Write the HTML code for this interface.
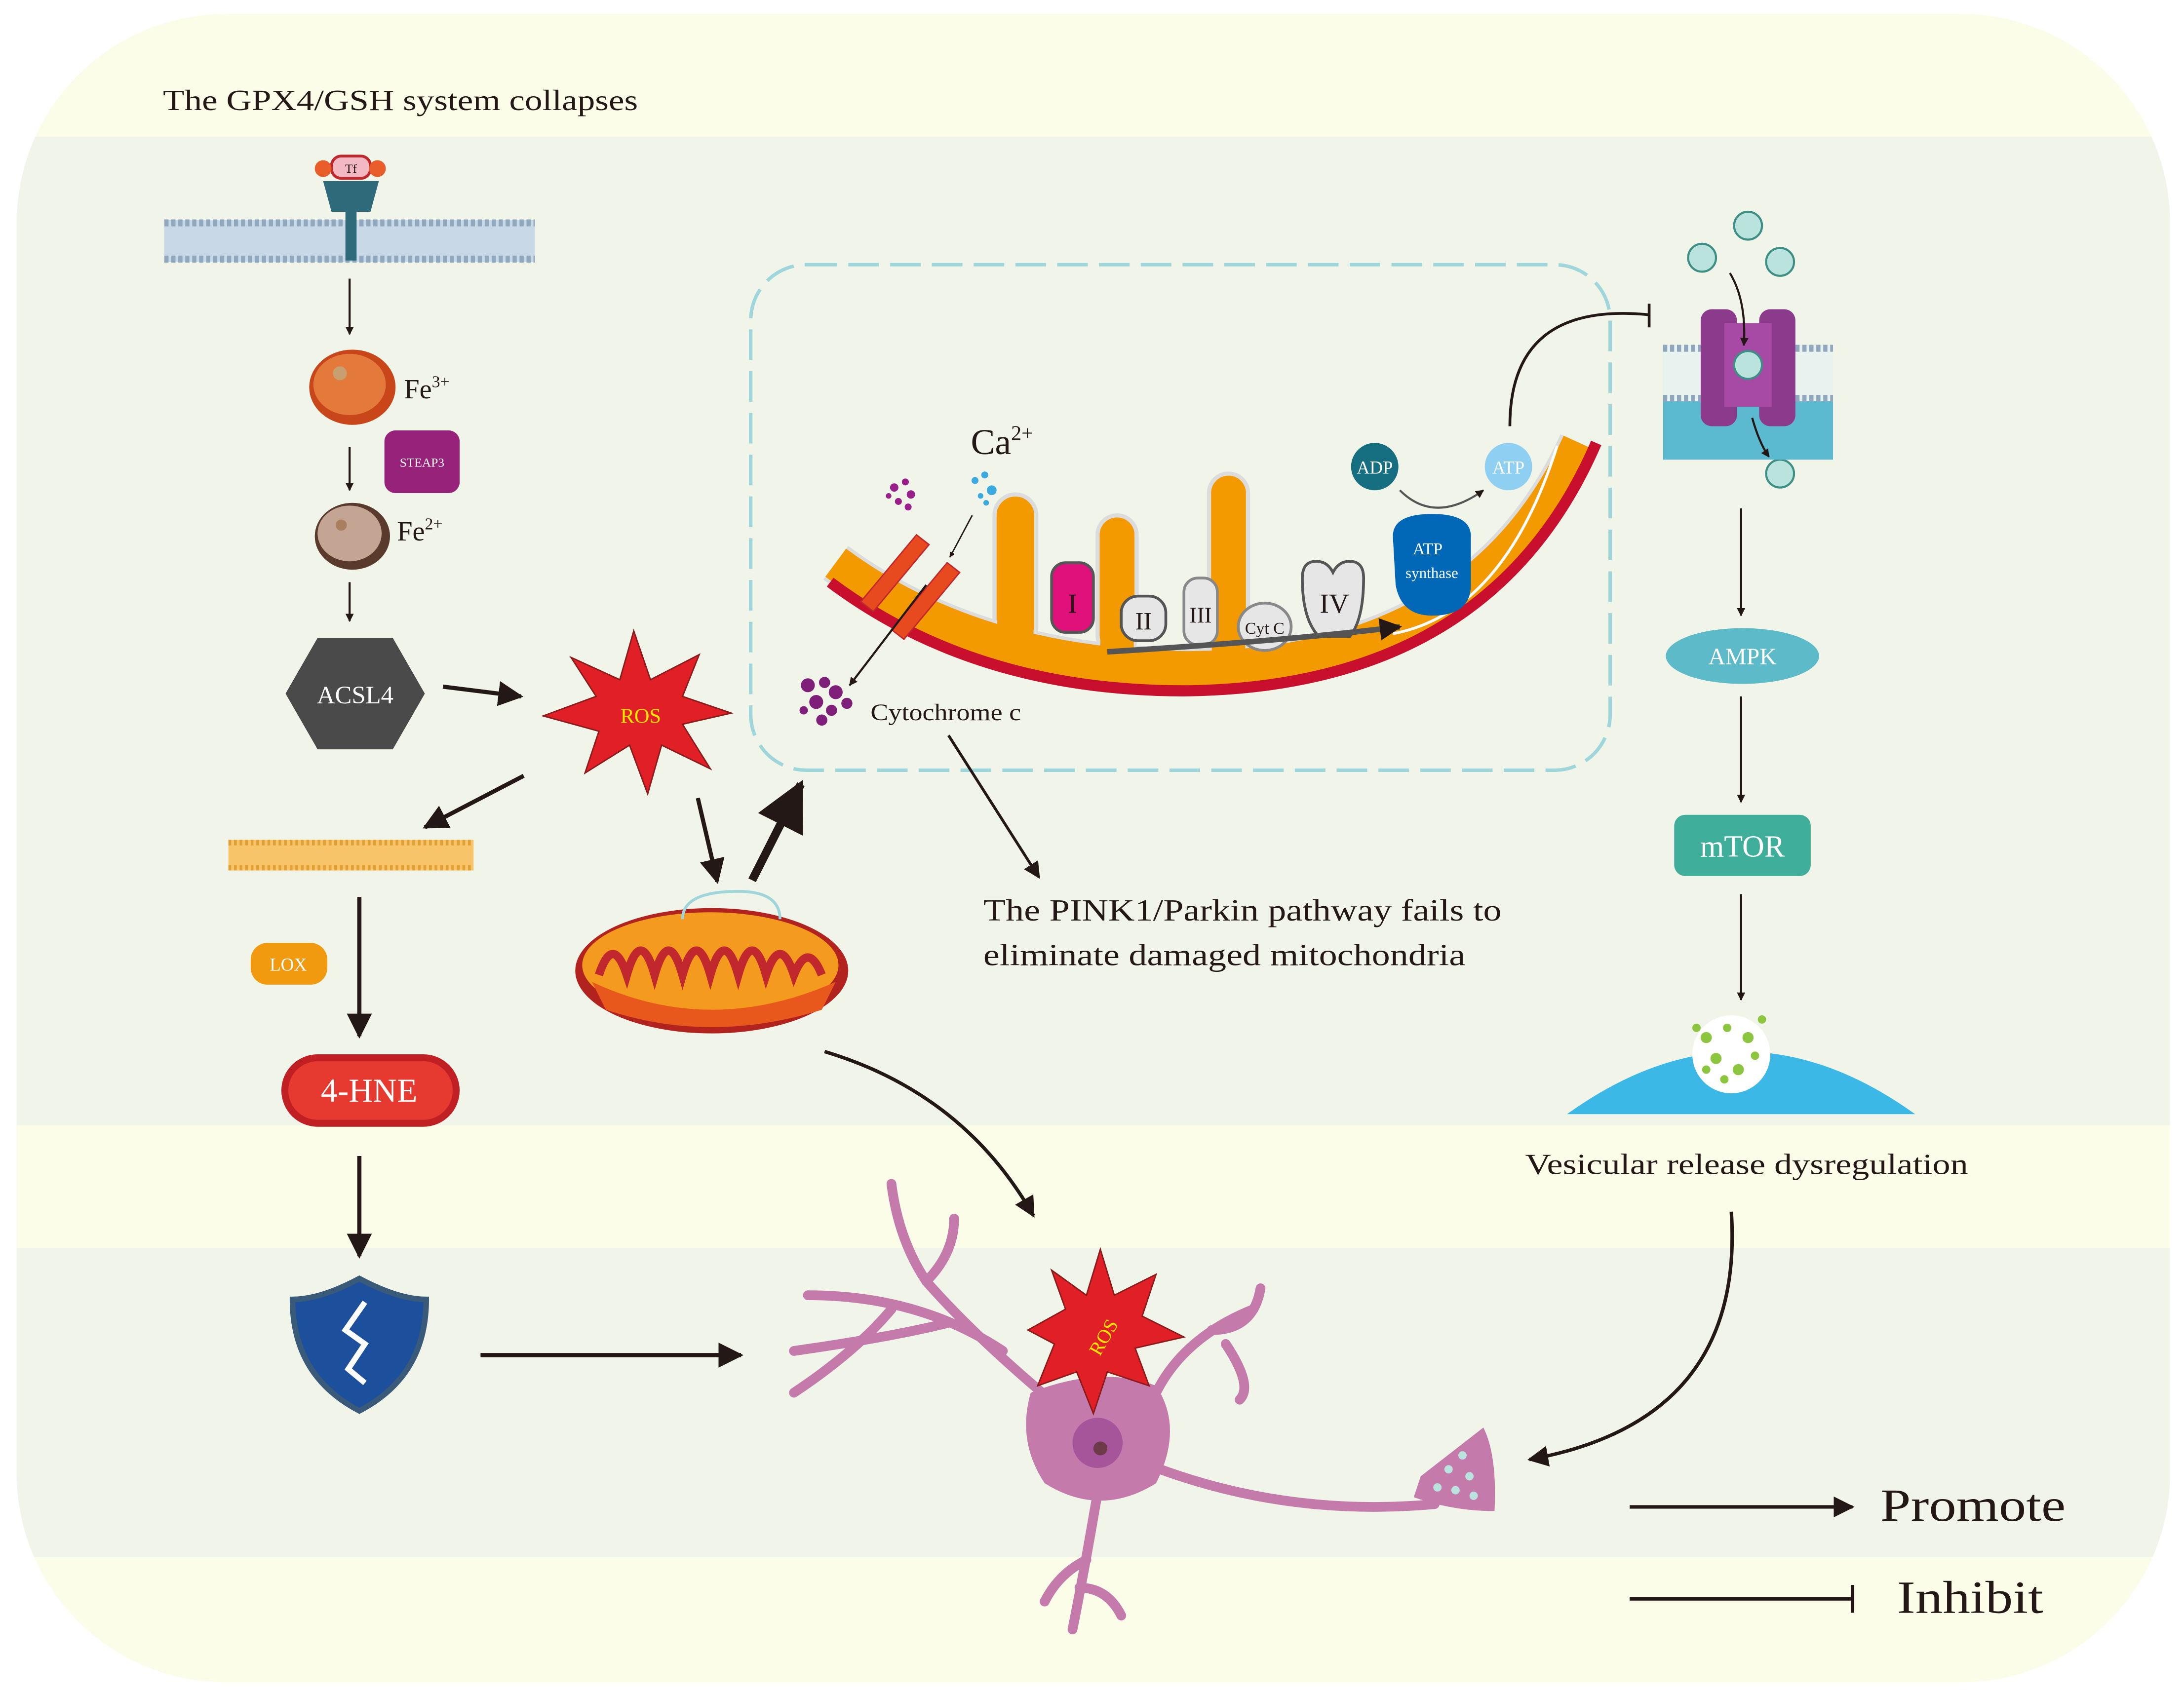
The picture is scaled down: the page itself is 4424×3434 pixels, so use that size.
<!DOCTYPE html>
<html><head><meta charset="utf-8"><style>
html,body{margin:0;padding:0;background:#fff}
svg{display:block}
text{font-family:"Liberation Serif",serif}
</style></head><body>
<svg width="4424" height="3434" viewBox="0 0 1568 1217" xmlns="http://www.w3.org/2000/svg">
<defs>
<marker id="a" viewBox="0 0 10 10" refX="9" refY="5" markerWidth="6" markerHeight="6" orient="auto-start-reverse"><path d="M0,0L10,5L0,10z" fill="#231815"/></marker>
<marker id="s" viewBox="0 0 10 10" refX="9" refY="5" markerWidth="4" markerHeight="4" orient="auto"><path d="M0,0L10,5L0,10z" fill="#231815"/></marker>
<clipPath id="c"><rect x="12" y="10" width="1546" height="1198" rx="150"/></clipPath>
</defs>
<rect width="1568" height="1217" fill="#fff"/>
<rect x="12" y="10" width="1546" height="1198" rx="150" fill="#fcfde9"/>
<g clip-path="url(#c)">
<rect x="0" y="98" width="1568" height="710" fill="#f1f5e9"/>
<rect x="0" y="896" width="1568" height="222" fill="#f1f5e9"/>
</g>
<text x="117" y="79" font-size="21" fill="#231815" textLength="341" lengthAdjust="spacingAndGlyphs">The GPX4/GSH system collapses</text>

<!-- membrane -->
<g>
<rect x="118" y="158" width="266" height="30" fill="#c8d8e6"/>
<line x1="118" y1="160" x2="384" y2="160" stroke="#8fa8bd" stroke-width="5" stroke-dasharray="3 2"/>
<line x1="118" y1="186" x2="384" y2="186" stroke="#8fa8bd" stroke-width="5" stroke-dasharray="3 2"/>
<rect x="248" y="135" width="8" height="52" fill="#2e6a7a"/>
<path d="M232 130 h40 l-6 22 h-28z" fill="#2e6a7a"/>
<rect x="238" y="112" width="28" height="16" rx="7" fill="#f3b9c2" stroke="#c0282d" stroke-width="2"/>
<text x="252" y="124" font-size="9" text-anchor="middle" fill="#231815">Tf</text>
<circle cx="232" cy="121" r="6" fill="#e85d2a"/><circle cx="271" cy="121" r="6" fill="#e85d2a"/>
</g>
<line x1="251" y1="200" x2="251" y2="240" stroke="#231815" stroke-width="1.5" marker-end="url(#s)"/>
<ellipse cx="253" cy="278" rx="31" ry="27" fill="#c9461b"/><ellipse cx="251" cy="276" rx="26" ry="22" fill="#e3793a"/><circle cx="244" cy="268" r="5" fill="#c8a070"/>
<text x="290" y="286" font-size="20" fill="#231815">Fe<tspan font-size="12" dy="-8">3+</tspan></text>
<rect x="276" y="309" width="54" height="45" rx="8" fill="#7b2385"/>
<rect x="276" y="309" width="54" height="45" rx="8" fill="#b2216d" opacity="0.5"/>
<text x="303" y="335" font-size="9" text-anchor="middle" fill="#fff">STEAP3</text>
<line x1="251" y1="321" x2="251" y2="352" stroke="#231815" stroke-width="1.5" marker-end="url(#s)"/>
<ellipse cx="253" cy="385" rx="27" ry="24" fill="#5a3a2c"/><ellipse cx="251" cy="383" rx="23" ry="20" fill="#c4a593"/><circle cx="245" cy="377" r="4" fill="#a88060"/>
<text x="285" y="388" font-size="20" fill="#231815">Fe<tspan font-size="12" dy="-8">2+</tspan></text>
<line x1="251" y1="418" x2="251" y2="446" stroke="#231815" stroke-width="1.5" marker-end="url(#s)"/>
<polygon points="228,458 282,458 305,498 282,538 228,538 205,498" fill="#4a4a4a"/>
<text x="255" y="505" font-size="18" text-anchor="middle" fill="#fff">ACSL4</text>
<line x1="318" y1="493" x2="374" y2="500" stroke="#231815" stroke-width="3" marker-end="url(#a)"/>
<polygon points="455,453 467,488 502,470 490,500 525,512 490,520 510,552 475,535 465,570 452,535 420,555 430,525 390,514 428,500 410,472 445,488" fill="#e01f26" stroke="#8b1a1a" stroke-width="1"/>
<text x="460" y="519" font-size="15" text-anchor="middle" fill="#ffe600">ROS</text>
<line x1="376" y1="557" x2="305" y2="594" stroke="#231815" stroke-width="3" marker-end="url(#a)"/>
<rect x="164" y="603" width="176" height="22" fill="#f7c46a"/>
<line x1="164" y1="605" x2="340" y2="605" stroke="#e3a032" stroke-width="4" stroke-dasharray="2 2"/>
<line x1="164" y1="623" x2="340" y2="623" stroke="#e3a032" stroke-width="4" stroke-dasharray="2 2"/>
<line x1="258" y1="644" x2="258" y2="744" stroke="#231815" stroke-width="3" marker-end="url(#a)"/>
<rect x="180" y="677" width="55" height="30" rx="12" fill="#f19a10"/>
<text x="207" y="697" font-size="13" text-anchor="middle" fill="#fff">LOX</text>
<rect x="202" y="757" width="128" height="52" rx="26" fill="#c01f24"/>
<rect x="207" y="762" width="118" height="42" rx="21" fill="#e63a30"/>
<text x="265" y="791" font-size="24" text-anchor="middle" fill="#fff">4-HNE</text>
<line x1="258" y1="830" x2="258" y2="902" stroke="#231815" stroke-width="3" marker-end="url(#a)"/>
<path d="M258 918 q-28 15 -48 15 q0 55 48 80 q48 -25 48 -80 q-20 0 -48 -15z" fill="#1c4f9c" stroke="#3a5a7a" stroke-width="4"/>
<path d="M262 935 l-14 20 l14 10 l-12 18 l12 10" fill="none" stroke="#fff" stroke-width="4"/>
<line x1="345" y1="973" x2="532" y2="973" stroke="#231815" stroke-width="3" marker-end="url(#a)"/>

<!-- mitochondrion -->
<ellipse cx="511" cy="697" rx="98" ry="45" fill="#b2231f"/>
<ellipse cx="510" cy="693" rx="92" ry="38" fill="#f39a1f"/>
<path d="M430 700 q10 -30 20 0 q10 -35 20 0 q10 -35 20 0 q10 -35 20 0 q10 -35 20 0 q10 -35 20 0 q10 -30 20 0 q10 -25 20 0" fill="none" stroke="#c0282d" stroke-width="6"/>
<path d="M425 705 q85 40 175 0 l-10 20 q-80 25 -155 0z" fill="#e8581c"/>
<path d="M490 660 q0 -20 40 -20 q30 0 30 20" fill="none" stroke="#9fd6dc" stroke-width="2"/>
<line x1="501" y1="573" x2="515" y2="633" stroke="#231815" stroke-width="3" marker-end="url(#a)"/>
<line x1="540" y1="632" x2="575" y2="563" stroke="#231815" stroke-width="6" marker-end="url(#a)"/>
<path d="M592 755 q100 30 150 118" fill="none" stroke="#231815" stroke-width="2.5" marker-end="url(#a)"/>

<!-- dashed box -->
<rect x="539" y="190" width="617" height="363" rx="40" fill="none" stroke="#9fd6dc" stroke-width="2.5" stroke-dasharray="22 8"/>
<text x="697" y="326" font-size="26" fill="#231815">Ca<tspan font-size="15" dy="-10">2+</tspan></text>
<g fill="#9a1f8a"><circle cx="642" cy="350" r="3"/><circle cx="650" cy="346" r="2.5"/><circle cx="654" cy="355" r="3"/><circle cx="645" cy="360" r="2.5"/><circle cx="652" cy="364" r="2.5"/><circle cx="638" cy="356" r="2"/></g>
<g fill="#3aa9e0"><circle cx="700" cy="345" r="2.5"/><circle cx="707" cy="341" r="2.5"/><circle cx="712" cy="352" r="3.5"/><circle cx="704" cy="356" r="2"/><circle cx="708" cy="361" r="2"/></g>
<line x1="698" y1="370" x2="682" y2="400" stroke="#231815" stroke-width="1" marker-end="url(#s)"/>
<!-- crista membrane -->
<g fill="#f39a00" stroke="#dcdcdc" stroke-width="3">
<rect x="714" y="355" width="30" height="110" rx="15"/>
<rect x="788" y="370" width="28" height="100" rx="14"/>
<rect x="868" y="340" width="28" height="130" rx="14"/>
</g>
<path d="M600 404 Q700 478 850 480 Q1060 480 1134 318" fill="none" stroke="#dcdcdc" stroke-width="30"/>
<path d="M600 404 Q700 478 850 480 Q1060 480 1134 318" fill="none" stroke="#f39a00" stroke-width="25"/>
<g fill="#f39a00"><rect x="716" y="400" width="26" height="70"/><rect x="790" y="400" width="24" height="70"/><rect x="870" y="400" width="24" height="70"/></g>
<path d="M596 418 Q700 496 850 496 Q1070 494 1146 318" fill="none" stroke="#c8102e" stroke-width="8"/>
<path d="M1118 320 Q1080 440 1000 455" fill="none" stroke="#fff" stroke-width="2"/>
<path d="M618 432 l40 -48 l9 7 l-40 48z" fill="#e84a1f" stroke="#c0282d"/>
<path d="M640 452 l40 -48 l9 7 l-40 48z" fill="#e84a1f" stroke="#c0282d"/>
<line x1="665" y1="420" x2="610" y2="492" stroke="#231815" stroke-width="1.5" marker-end="url(#s)"/>
<rect x="755" y="404" width="30" height="50" rx="10" fill="#e0117a" stroke="#555" stroke-width="2"/>
<text x="770" y="440" font-size="20" text-anchor="middle" fill="#231815">I</text>
<rect x="805" y="428" width="32" height="32" rx="12" fill="#e6e6e6" stroke="#555" stroke-width="2"/>
<text x="821" y="452" font-size="18" text-anchor="middle" fill="#231815">II</text>
<rect x="850" y="415" width="24" height="48" rx="10" fill="#e6e6e6" stroke="#888" stroke-width="2"/>
<text x="862" y="447" font-size="16" text-anchor="middle" fill="#231815">III</text>
<ellipse cx="908" cy="450" rx="19" ry="17" fill="#e6e6e6" stroke="#888" stroke-width="2"/>
<text x="908" y="455" font-size="12" text-anchor="middle" fill="#231815">Cyt C</text>
<path d="M935 415 q0 -12 10 -12 q8 0 12 8 q4 -8 12 -8 q10 0 10 12 q0 30 -10 42 h-22 q-12 -12 -12 -42z" fill="#e6e6e6" stroke="#555" stroke-width="2"/>
<text x="958" y="440" font-size="20" text-anchor="middle" fill="#231815">IV</text>
<path d="M1000 385 q0 -16 28 -16 q28 0 28 16 v35 q0 22 -28 22 q-22 0 -26 -22z" fill="#0068b7"/>
<text x="1025" y="398" font-size="12" text-anchor="middle" fill="#fff">ATP</text>
<text x="1028" y="415" font-size="11" text-anchor="middle" fill="#fff">synthase</text>
<path d="M795 468 q130 -8 210 -18" fill="none" stroke="#555" stroke-width="4" marker-end="url(#s)"/>
<circle cx="987" cy="335" r="17" fill="#156f80"/>
<text x="987" y="340" font-size="13" text-anchor="middle" fill="#fff">ADP</text>
<circle cx="1083" cy="335" r="17" fill="#8fd0f2"/>
<text x="1083" y="340" font-size="13" text-anchor="middle" fill="#fff">ATP</text>
<path d="M1005 352 q25 25 60 0" fill="none" stroke="#555" stroke-width="1.5" marker-end="url(#s)"/>
<path d="M1084 306 q0 -90 100 -80" fill="none" stroke="#231815" stroke-width="2"/>
<line x1="1184" y1="218" x2="1184" y2="235" stroke="#231815" stroke-width="2"/>
<g fill="#7f1f7a"><circle cx="580" cy="492" r="5"/><circle cx="592" cy="490" r="4"/><circle cx="600" cy="497" r="5"/><circle cx="586" cy="504" r="5"/><circle cx="597" cy="510" r="4"/><circle cx="608" cy="505" r="4"/><circle cx="590" cy="517" r="4"/><circle cx="577" cy="510" r="3"/></g>
<text x="625" y="517" font-size="17" fill="#231815" textLength="108" lengthAdjust="spacingAndGlyphs">Cytochrome c</text>
<line x1="681" y1="528" x2="746" y2="630" stroke="#231815" stroke-width="2" marker-end="url(#a)"/>
<text x="706" y="661" font-size="22" fill="#231815" textLength="372" lengthAdjust="spacingAndGlyphs">The PINK1/Parkin pathway fails to</text>
<text x="706" y="693" font-size="22" fill="#231815" textLength="346" lengthAdjust="spacingAndGlyphs">eliminate damaged mitochondria</text>

<!-- right column -->
<g fill="#b9e3dc" stroke="#3d8f86" stroke-width="1.5"><circle cx="1255" cy="162" r="10"/><circle cx="1222" cy="185" r="10"/><circle cx="1278" cy="188" r="10"/><circle cx="1278" cy="340" r="10"/></g>
<rect x="1194" y="248" width="122" height="82" fill="#5bb9d0"/>
<rect x="1194" y="248" width="122" height="40" fill="#e8f3f0"/>
<line x1="1194" y1="250" x2="1316" y2="250" stroke="#8fa8bd" stroke-width="5" stroke-dasharray="3 2"/>
<line x1="1194" y1="286" x2="1316" y2="286" stroke="#8fa8bd" stroke-width="5" stroke-dasharray="3 2"/>
<rect x="1221" y="222" width="26" height="84" rx="8" fill="#8c3a8c"/>
<rect x="1263" y="222" width="26" height="84" rx="8" fill="#8c3a8c"/>
<rect x="1238" y="232" width="34" height="60" fill="#a74aa6"/>
<circle cx="1255" cy="262" r="10" fill="#b9e3dc" stroke="#3d8f86" stroke-width="1.5"/>
<path d="M1242 196 q12 20 10 52" fill="none" stroke="#231815" stroke-width="1.5" marker-end="url(#s)"/>
<path d="M1258 300 q5 18 12 28" fill="none" stroke="#231815" stroke-width="1.5" marker-end="url(#s)"/>
<line x1="1250" y1="365" x2="1250" y2="442" stroke="#231815" stroke-width="1.5" marker-end="url(#s)"/>
<ellipse cx="1251" cy="471" rx="55" ry="20" fill="#4aa3c8"/>
<ellipse cx="1251" cy="471" rx="55" ry="20" fill="#6fd1c8" opacity="0.5"/>
<text x="1251" y="477" font-size="17" text-anchor="middle" fill="#fff">AMPK</text>
<line x1="1250" y1="500" x2="1250" y2="576" stroke="#231815" stroke-width="1.5" marker-end="url(#s)"/>
<rect x="1202" y="585" width="98" height="44" rx="8" fill="#3fae9a"/>
<text x="1251" y="615" font-size="22" text-anchor="middle" fill="#fff">mTOR</text>
<line x1="1250" y1="642" x2="1250" y2="718" stroke="#231815" stroke-width="1.5" marker-end="url(#s)"/>
<path d="M1125 800 q125 -90 250 0z" fill="#3cb8e6"/>
<circle cx="1243" cy="757" r="28" fill="#fff"/>
<g fill="#8cc63f"><circle cx="1225" cy="745" r="4"/><circle cx="1240" cy="738" r="3"/><circle cx="1255" cy="745" r="4"/><circle cx="1232" cy="760" r="4"/><circle cx="1248" cy="768" r="4"/><circle cx="1260" cy="758" r="3"/><circle cx="1238" cy="775" r="3"/><circle cx="1225" cy="768" r="3"/><circle cx="1218" cy="738" r="3"/><circle cx="1265" cy="732" r="3"/></g>
<text x="1095" y="843" font-size="21" fill="#231815" textLength="318" lengthAdjust="spacingAndGlyphs">Vesicular release dysregulation</text>
<path d="M1243 870 q10 150 -145 178" fill="none" stroke="#231815" stroke-width="2.5" marker-end="url(#a)"/>

<!-- neuron -->
<g fill="none" stroke="#c57aac" stroke-width="7" stroke-linecap="round">
<path d="M760 1010 q-60 -50 -95 -90 q-20 -30 -25 -70"/>
<path d="M665 920 q20 -20 20 -45"/><path d="M720 970 q-60 -40 -140 -40"/><path d="M680 950 q-40 10 -110 20"/>
<path d="M640 940 q-25 30 -70 60"/>
<path d="M830 1000 q20 -40 70 -60"/><path d="M870 955 q30 0 35 -30"/><path d="M880 965 q20 30 10 40"/>
<path d="M790 1060 q-10 60 -20 110"/><path d="M780 1120 q-20 10 -30 30"/><path d="M775 1140 q20 0 30 20"/>
<path d="M820 1050 q100 40 210 30"/>
</g>
<path d="M740 1000 q50 -20 90 -5 q20 30 0 70 q-40 25 -80 0 q-20 -30 -10 -65z" fill="#c57aac"/>
<circle cx="788" cy="1036" r="18" fill="#a6559b"/><circle cx="790" cy="1040" r="5" fill="#6d3a4a"/>
<path d="M1020 1060 l45 -35 q10 20 8 60 q-30 0 -58 -10z" fill="#c57aac"/>
<g fill="#b9e3dc"><circle cx="1040" cy="1055" r="3"/><circle cx="1050" cy="1045" r="3"/><circle cx="1055" cy="1060" r="3"/><circle cx="1045" cy="1070" r="3"/><circle cx="1032" cy="1068" r="3"/><circle cx="1058" cy="1074" r="3"/></g>
<polygon points="790,897 800,930 830,915 820,945 850,960 815,968 825,995 795,985 785,1015 773,985 745,995 757,965 738,955 765,940 755,912 780,930" fill="#e01f26" stroke="#8b1a1a" stroke-width="1"/>
<text x="792" y="965" font-size="14" text-anchor="middle" fill="#ffe600" transform="rotate(-60 792 960)">ROS</text>

<!-- legend -->
<line x1="1170" y1="1082" x2="1330" y2="1082" stroke="#231815" stroke-width="2.5" marker-end="url(#a)"/>
<text x="1350" y="1092" font-size="33" fill="#231815" textLength="133" lengthAdjust="spacingAndGlyphs">Promote</text>
<line x1="1170" y1="1148" x2="1330" y2="1148" stroke="#231815" stroke-width="2.5"/>
<line x1="1330" y1="1138" x2="1330" y2="1158" stroke="#231815" stroke-width="2.5"/>
<text x="1362" y="1158" font-size="33" fill="#231815" textLength="105" lengthAdjust="spacingAndGlyphs">Inhibit</text>
</svg>
</body></html>
